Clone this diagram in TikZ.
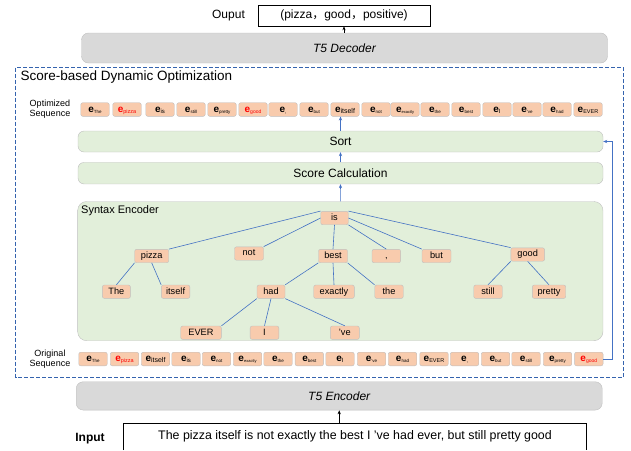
\documentclass[tikz,border=0pt]{standalone}
\usepackage{fontspec}
\setmainfont{Liberation Sans}
\newfontfamily\cjk{Noto Sans CJK SC}
\usepackage{tikz}
\usetikzlibrary{arrows.meta}
\definecolor{peach}{HTML}{F8CBAD}
\definecolor{palegreen}{HTML}{E2EFDA}
\definecolor{lightgrey}{HTML}{D9D9D9}
\definecolor{edgegrey}{HTML}{BFBFBF}
\definecolor{treeblue}{HTML}{4472C4}
\definecolor{frameblue}{HTML}{3463AE}
\newcommand{\emb}[2][4.5]{\textbf{e}\raisebox{-1.4pt}{\fontsize{#1}{#1}\selectfont #2}}

\begin{document}
\begin{tikzpicture}[x=1pt,y=-1pt,>={Stealth[length=4pt,width=3.2pt]},
  tok/.style={draw=edgegrey,fill=peach,rounded corners=2pt,inner sep=0pt,
    minimum width=28pt,minimum height=13.4pt,text height=6.6pt,text depth=1.8pt,
    font=\fontsize{9.2}{10}\selectfont},
  emb/.style={tok,minimum width=28.5pt,minimum height=13.6pt,text height=7pt,
    text depth=2pt,font=\fontsize{10}{10}\selectfont},
  stage/.style={draw=edgegrey,fill=palegreen,rounded corners=6pt,inner sep=0pt,
    font=\fontsize{12}{14}\selectfont},
  t5/.style={draw=edgegrey,fill=lightgrey,rounded corners=7pt,inner sep=0pt,
    minimum width=526pt,font=\fontsize{12}{14}\selectfont\itshape},
  lbl/.style={align=center,inner sep=0pt,font=\fontsize{9}{10.3}\selectfont}]
  \useasboundingbox (0,0) rectangle (631,450);
  \node[t5,minimum height=30pt] (dec) at (344.5,48) {T5 Decoder};
  \node[draw,line width=0.6pt,minimum width=172pt,minimum height=21pt,inner sep=0pt,
    font=\fontsize{12}{14}\selectfont] (out) at (344,15.5) {(pizza{\cjk ，}good{\cjk ，}positive)};
  \node[font=\fontsize{12}{14}\selectfont] (outlbl) at (228.5,16) {Ouput};
  \draw[->,line width=0.6pt] (dec.north -| out.south) -- (out.south);
  \draw[frameblue,line width=0.75pt,dash pattern=on 4pt off 2pt] (15.5,67.5) rectangle (623.5,377);
  \node[anchor=west,inner sep=0pt,font=\fontsize{13.5}{15}\selectfont] (title) at (20.5,77) {Score-based Dynamic Optimization};
  \node[lbl] (optlbl) at (50,109.5) {Optimized\\Sequence};
  \node[emb] (o1) at (95,109.5) {\emb{The}};
  \node[emb,text=red] (o2) at (127,109.5) {\emb[5.5]{pizza}};
  \node[emb] (o3) at (160,109.5) {\emb[6]{is}};
  \node[emb] (o4) at (191,109.5) {\emb{still}};
  \node[emb] (o5) at (222,109.5) {\emb{pretty}};
  \node[emb,text=red] (o6) at (253,109.5) {\emb[5]{good}};
  \node[emb] (o7) at (283,109.5) {\emb[5]{,}};
  \node[emb] (o8) at (314,109.5) {\emb{but}};
  \node[emb] (o9) at (345,109.5) {\emb[7]{itself}};
  \node[emb] (o10) at (376,109.5) {\emb{not}};
  \node[emb] (o11) at (405,109.5) {\emb[4]{exactly}};
  \node[emb] (o12) at (435,109.5) {\emb{the}};
  \node[emb] (o13) at (466,109.5) {\emb{best}};
  \node[emb] (o14) at (497,109.5) {\emb[6]{I}};
  \node[emb] (o15) at (527,109.5) {\emb{'ve}};
  \node[emb] (o16) at (557,109.5) {\emb{had}};
  \node[emb] (o17) at (588,109.5) {\emb[5.5]{EVER}};
  \node[stage,minimum width=525pt,minimum height=21pt] (sort) at (340.5,141.5) {Sort};
  \node[stage,minimum width=525pt,minimum height=21.5pt] (score) at (340.5,173.2) {Score Calculation};
  \node[stage,rounded corners=9pt,minimum width=525.3pt,minimum height=139.2pt] (syn) at (340.3,271.1) {};
  \node[anchor=west,inner sep=0pt,font=\fontsize{11}{12}\selectfont] (synlbl) at (81,210.5) {Syntax Encoder};
  \node[tok,minimum width=27.5pt] (is) at (334.5,218) {is};
  \node[tok,minimum width=34pt] (pizza) at (151.7,256) {pizza};
  \node[tok,minimum width=29pt] (not) at (249,253.5) {not};
  \node[tok,minimum width=29pt] (best) at (333,256) {best};
  \node[tok,minimum width=28.6pt] (comma) at (386.3,256) {,};
  \node[tok,minimum width=29pt] (but) at (436.5,256) {but};
  \node[tok,minimum width=33.7pt] (good) at (527.7,254.5) {good};
  \node[tok] (The) at (116.4,291.7) {The};
  \node[tok,minimum width=28.5pt] (itself) at (175.6,291.7) {itself};
  \node[tok] (had) at (271,291.7) {had};
  \node[tok,minimum width=40.6pt] (exactly) at (334,291.7) {exactly};
  \node[tok,minimum width=28.5pt] (the) at (389,291.7) {the};
  \node[tok,minimum width=28.5pt] (still) at (488,291.7) {still};
  \node[tok,minimum width=33.4pt] (pretty) at (549,291.7) {pretty};
  \node[tok,minimum width=40.6pt] (EVER) at (201,332.7) {EVER};
  \node[tok,minimum width=28.7pt] (I) at (264.5,332.7) {I};
  \node[tok,minimum width=29pt] (ve) at (344.8,332.7) {'ve};
  \begin{scope}[draw=treeblue,line width=0.6pt]
   \draw (is.north west) -- (pizza.north east);
   \draw (is.west) -- (not.north east);
   \draw (is.south) -- (best.north);
   \draw (is.south east) -- (comma.north);
   \draw (is.east) -- (but.north west);
   \draw (is.north east) -- (good.north west);
   \draw (pizza.south west) -- (The.north);
   \draw (pizza.south) -- (itself.north west);
   \draw (best.south west) -- (had.north east);
   \draw (best.south) -- (exactly.north);
   \draw (best.south east) -- (the.north west);
   \draw (good.south west) -- (still.north);
   \draw (good.south) -- (pretty.north);
   \draw (had.south west) -- (EVER.north east);
   \draw (had.south) -- (I.north);
   \draw (had.south east) -- (ve.north);
  \end{scope}
  \node[lbl] (orglbl) at (50,359.5) {Original\\Sequence};
  \node[emb] (g1) at (93,359) {\emb{The}};
  \node[emb,text=red] (g2) at (124.5,359) {\emb[5.5]{pizza}};
  \node[emb] (g3) at (155.5,359) {\emb[7]{itself}};
  \node[emb] (g4) at (186,359) {\emb[6]{is}};
  \node[emb] (g5) at (216.5,359) {\emb{not}};
  \node[emb] (g6) at (247.5,359) {\emb[4]{exactly}};
  \node[emb] (g7) at (278,359) {\emb{the}};
  \node[emb] (g8) at (309.3,359) {\emb{best}};
  \node[emb] (g9) at (340,359) {\emb[6]{I}};
  \node[emb] (g10) at (371.5,359) {\emb{'ve}};
  \node[emb] (g11) at (402.5,359) {\emb{had}};
  \node[emb] (g12) at (434,359) {\emb[5.5]{EVER}};
  \node[emb] (g13) at (464.5,359) {\emb[5]{,}};
  \node[emb] (g14) at (495.5,359) {\emb{but}};
  \node[emb] (g15) at (526,359) {\emb{still}};
  \node[emb] (g16) at (557.5,359) {\emb{pretty}};
  \node[emb,text=red] (g17) at (588.8,359) {\emb[5]{good}};
  \begin{scope}[draw=treeblue,line width=0.6pt]
   \draw[->] (syn.north) -- (score.south);
   \draw[->] (score.north) -- (sort.south);
   \draw[->] (sort.north) -- (sort.north |- o9.south);
   \draw[->] (g17.east) -- ++(9,0) |- (sort.east);
  \end{scope}
  \node[t5,minimum height=28.3pt] (enc) at (339.2,395.9) {T5 Encoder};
  \node[inner sep=0pt,minimum width=463pt,minimum height=27pt,text height=8.8pt,text depth=2.4pt,
    font=\fontsize{12.4}{14}\selectfont] (inp) at (355,436.5) {The pizza itself is not exactly the best I 've had ever, but still pretty good};
  \draw[line width=0.6pt] (inp.south west) -- (inp.north west) -- (inp.north east) -- (inp.south east);
  \node[font=\fontsize{12}{14}\selectfont\bfseries] (inplbl) at (90,439) {Input};
  \draw[->,line width=0.6pt] (enc.south |- inp.north) -- (enc.south);
\end{tikzpicture}
\end{document}
